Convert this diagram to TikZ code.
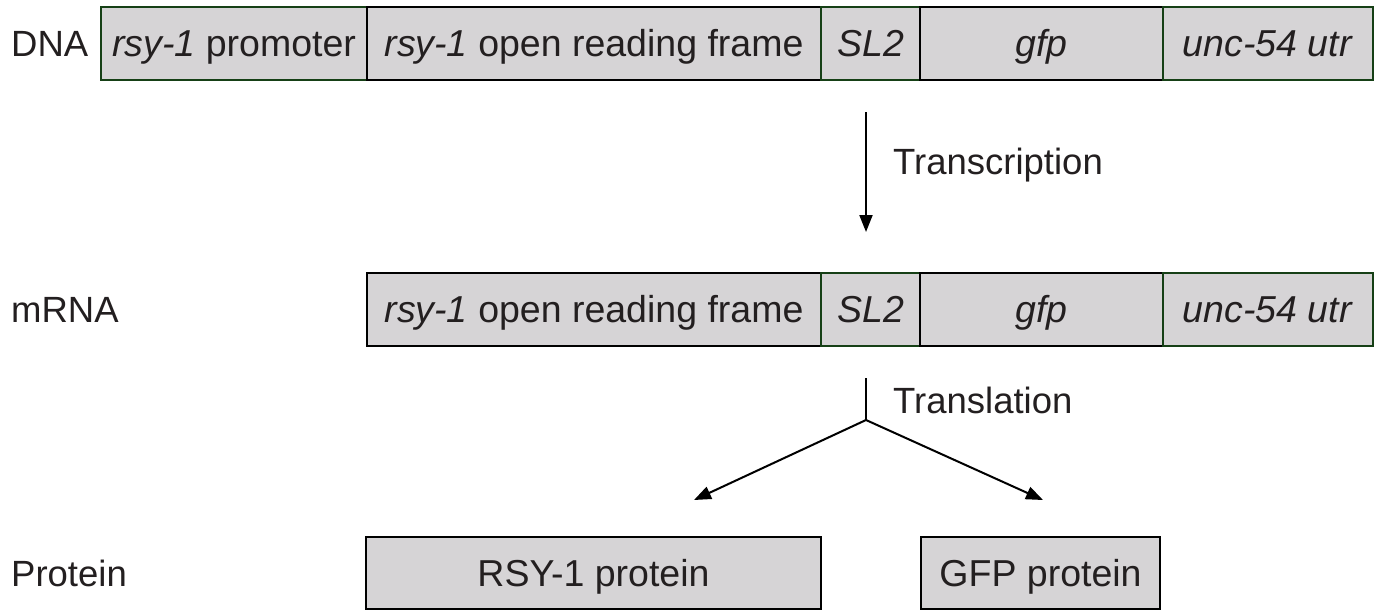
\documentclass[tikz,border=0pt]{standalone}
\usepackage{fontspec}
\setmainfont{Liberation Sans}
\usepackage{tikz}
\usetikzlibrary{arrows.meta}
\definecolor{boxgrey}{RGB}{214,212,214}
\definecolor{inkgrey}{RGB}{35,31,32}
\definecolor{darkgreen}{RGB}{22,64,22}
\tikzset{
    seg/.style={
        draw=black,
        fill=boxgrey,
        line width=2.8pt,
        inner sep=0,
        outer sep=0,
        minimum height=73pt,
        text height=31pt,
        text depth=5pt,
        font=\fontsize{37.5}{45}\selectfont,
    },
    greenseg/.style={
        seg,
        draw=darkgreen,
    },
    rowlabel/.style={
        anchor=west,
        inner sep=0,
        text height=31pt,
        text depth=5pt,
    },
    steplabel/.style={
        anchor=west,
        inner sep=0,
    },
    flow/.style={
        line width=2pt,
        -{Triangle[length=17pt,width=13pt]},
    },
}

\begin{document}
\begin{tikzpicture}[x=1pt, y=-1pt, font=\fontsize{36.5}{44}\selectfont, text=inkgrey]
            \useasboundingbox (0,0) rectangle (1381,611);

            % row labels
            \node[rowlabel] at (11, 43.5) (lbldna) {DNA};
            \node[rowlabel] at (11, 309.5) (lblrna) {mRNA};
            \node[rowlabel] at (11, 573) (lblprot) {Protein};

            % DNA
            \node[greenseg, minimum width=266pt] at (234, 43.5) (dnaprom) {\textit{rsy-1} promoter};
            \node[seg, minimum width=454pt] at (594, 43.5) (dnaorf) {\textit{rsy-1} open reading frame};
            \node[greenseg, minimum width=99pt] at (870.5, 43.5) (dnasl) {\textit{SL2}};
            \node[seg, minimum width=243pt] at (1041.5, 43.5) (dnagfp) {\textit{gfp}};
            \node[greenseg, minimum width=210pt] at (1268, 43.5) (dnautr) {\textit{unc-54 utr}};

            % mRNA
            \node[seg, minimum width=454pt] at (594, 309.5) (rnaorf) {\textit{rsy-1} open reading frame};
            \node[greenseg, minimum width=99pt] at (870.5, 309.5) (rnasl) {\textit{SL2}};
            \node[seg, minimum width=243pt] at (1041.5, 309.5) (rnagfp) {\textit{gfp}};
            \node[greenseg, minimum width=210pt] at (1268, 309.5) (rnautr) {\textit{unc-54 utr}};

            % protein
            \node[seg, minimum width=455pt, minimum height=72pt] at (593.5, 573) (protrsy) {RSY-1 protein};
            \node[seg, minimum width=239pt, minimum height=72pt] at (1040.5, 573) (protgfp) {GFP protein};

            % transcription
            \coordinate (txtop) at (866, 112);
            \coordinate (txtip) at (866, 232);
            \draw[flow] (txtop) -- (txtip);
            \node[steplabel] at (893, 165) (txlabel) {Transcription};

            % translation
            \coordinate (tltop) at (866, 378);
            \coordinate (tlfork) at (866, 420);
            \coordinate (tlleft) at (694, 500);
            \coordinate (tlright) at (1043, 500);
            \draw[line width=2pt] (tltop) -- (tlfork);
            \draw[flow] (tlfork) -- (tlleft);
            \draw[flow] (tlfork) -- (tlright);
            \node[steplabel] at (893, 400) (tllabel) {Translation};
        \end{tikzpicture}
\end{document}
